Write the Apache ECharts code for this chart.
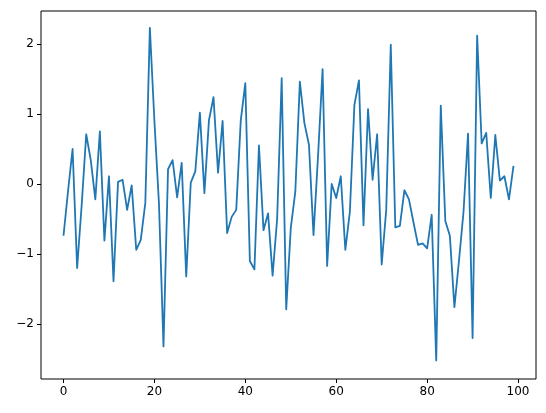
<!DOCTYPE html>
<html>
<head>
<meta charset="utf-8">
<script src="https://cdn.jsdelivr.net/npm/echarts@6/dist/echarts.min.js"></script>
<style>
html,body{margin:0;padding:0;background:#fff;}
#chart{width:546px;height:413px;}
</style>
</head>
<body>
<div id="chart"></div>
<script>
var xIndex = [0,1,2,3,4,5,6,7,8,9,10,11,12,13,14,15,16,17,18,19,20,21,22,23,24,25,26,27,28,29,30,31,32,33,34,35,36,37,38,39,40,41,42,43,44,45,46,47,48,49,50,51,52,53,54,55,56,57,58,59,60,61,62,63,64,65,66,67,68,69,70,71,72,73,74,75,76,77,78,79,80,81,82,83,84,85,86,87,88,89,90,91,92,93,94,95,96,97,98,99];
var values = [
  -0.74, -0.10, 0.50, -1.20, -0.30, 0.71, 0.34, -0.22, 0.75, -0.81,
  0.11, -1.39, 0.03, 0.06, -0.37, -0.02, -0.94, -0.80, -0.27, 2.23,
  0.90, -0.28, -2.32, 0.21, 0.34, -0.19, 0.30, -1.32, 0.02, 0.18,
  1.02, -0.13, 0.91, 1.24, 0.16, 0.90, -0.70, -0.47, -0.37, 0.91,
  1.44, -1.10, -1.22, 0.55, -0.66, -0.42, -1.31, -0.50, 1.51, -1.79,
  -0.63, -0.11, 1.46, 0.87, 0.56, -0.73, 0.40, 1.64, -1.17, 0.00,
  -0.20, 0.11, -0.94, -0.40, 1.13, 1.48, -0.59, 1.07, 0.06, 0.71,
  -1.15, -0.37, 1.99, -0.62, -0.60, -0.09, -0.22, -0.55, -0.87, -0.85,
  -0.92, -0.44, -2.52, 1.12, -0.53, -0.74, -1.76, -1.10, -0.40, 0.72,
  -2.20, 2.12, 0.58, 0.73, -0.20, 0.70, 0.05, 0.11, -0.22, 0.26
];
var xTicks = [0, 20, 40, 60, 80, 100];
var yTicks = [-2, -1, 0, 1, 2];

var seriesData = xIndex.map(function (x, i) { return [x, values[i]]; });
function fmt(v) { return String(v).replace('-', '\u2212'); }

var chart = echarts.init(document.getElementById('chart'), null, {renderer: 'canvas'});
chart.setOption({
  animation: false,
  backgroundColor: '#ffffff',
  grid: {
    left: 41, right: 10, top: 11, bottom: 34,
    show: true, borderColor: '#000', borderWidth: 1, backgroundColor: 'transparent'
  },
  xAxis: {
    type: 'value',
    position: 'bottom',
    min: -4.95, max: 103.95,
    axisLine: {show: false, onZero: false},
    splitLine: {show: false},
    axisTick: {show: true, inside: false, length: 4, lineStyle: {color: '#000', width: 1}, customValues: xTicks},
    axisLabel: {
      customValues: xTicks, color: '#000', fontFamily: 'DejaVu Sans', fontSize: 12, margin: 7,
      formatter: fmt
    }
  },
  yAxis: {
    type: 'value',
    position: 'left',
    min: -2.786, max: 2.471,
    axisLine: {show: false, onZero: false},
    splitLine: {show: false},
    axisTick: {show: true, inside: false, length: 4, lineStyle: {color: '#000', width: 1}, customValues: yTicks},
    axisLabel: {
      customValues: yTicks, color: '#000', fontFamily: 'DejaVu Sans', fontSize: 12, margin: 7,
      formatter: fmt
    }
  },
  series: [{
    type: 'line',
    data: seriesData,
    showSymbol: false,
    symbol: 'none',
    lineStyle: {color: '#1f77b4', width: 1.8, join: 'round', cap: 'butt'},
    clip: true
  }]
});
</script>
</body>
</html>
